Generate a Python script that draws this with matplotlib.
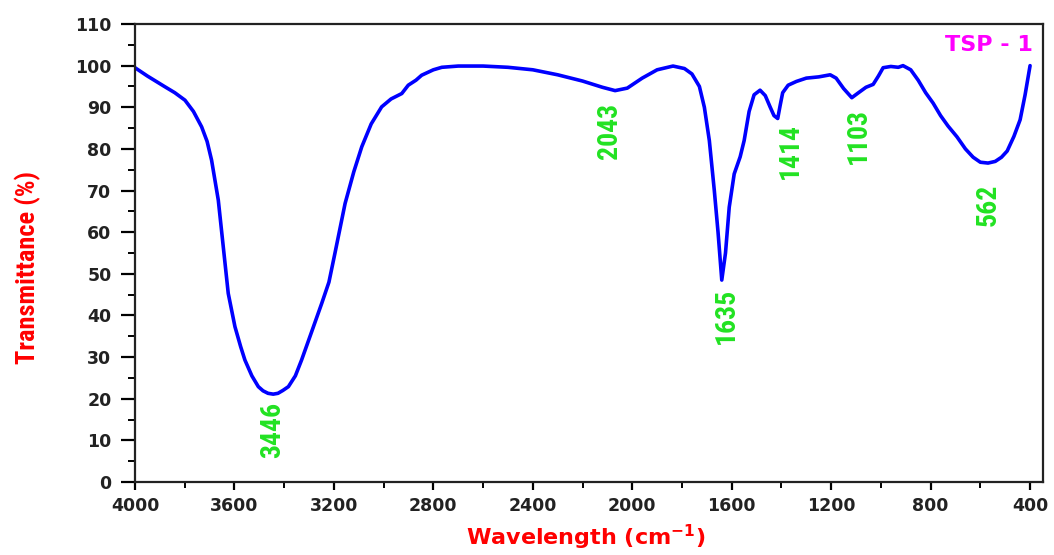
import matplotlib
matplotlib.use("Agg")
import matplotlib.pyplot as plt
from matplotlib import font_manager
from matplotlib.ticker import MultipleLocator

# FTIR spectrum (wavenumber in cm-1, transmittance in %)
wavenumber = [4000, 3950, 3879, 3840, 3799, 3765, 3732, 3710, 3692, 3665,
              3645, 3625, 3598, 3575, 3558, 3530, 3504, 3485, 3465, 3444,
              3425, 3405, 3383, 3355, 3330, 3290, 3249, 3220, 3196, 3155,
              3120, 3088, 3050, 3008, 2970, 2927, 2901, 2870, 2847, 2800,
              2766, 2700, 2600, 2500, 2400, 2300, 2200, 2120, 2069, 2020,
              1960, 1900, 1836, 1790, 1760, 1730, 1710, 1690, 1670, 1655,
              1640, 1625, 1610, 1590, 1566, 1550, 1530, 1510, 1486, 1465,
              1445, 1430, 1415, 1405, 1395, 1373, 1340, 1300, 1250, 1204,
              1180, 1150, 1117, 1090, 1060, 1031, 1010, 991, 960, 930,
              911, 880, 850, 820, 790, 760, 730, 694, 660, 629,
              600, 569, 540, 515, 492, 465, 440, 420, 400]
transmittance = [99.5, 97.5, 94.9, 93.5, 91.7, 89.0, 85.3, 81.8, 77.3, 67.7,
                 56.5, 45.3, 37.3, 32.5, 29.3, 25.5, 22.9, 21.9, 21.3, 21.1,
                 21.3, 22.0, 22.9, 25.5, 29.3, 36.0, 42.9, 48.0, 54.9, 66.9,
                 74.5, 80.5, 86.0, 90.1, 92.0, 93.3, 95.3, 96.5, 97.7, 99.0,
                 99.6, 99.9, 99.9, 99.6, 99.0, 97.8, 96.3, 94.8, 94.0, 94.6,
                 97.0, 99.0, 99.9, 99.3, 98.0, 95.0, 90.0, 82.0, 70.0, 60.0,
                 48.5, 55.0, 66.0, 74.0, 78.1, 82.0, 89.0, 93.0, 94.1, 92.8,
                 90.0, 88.0, 87.3, 90.5, 93.5, 95.3, 96.2, 97.0, 97.3, 97.8,
                 97.0, 94.5, 92.3, 93.5, 94.8, 95.5, 97.5, 99.5, 99.8, 99.6,
                 100.0, 99.0, 96.5, 93.5, 91.0, 88.0, 85.5, 82.9, 80.0, 78.0,
                 76.8, 76.6, 77.0, 78.0, 79.5, 83.0, 87.0, 93.0, 100.0]

# peak labels and where they sit
peak_labels = ["3446", "2043", "1635", "1414", "1103", "562"]
label_x = [3446, 2093, 1620, 1365, 1092, 569]
label_y = [12.5, 84.3, 40.0, 79.5, 83.0, 66.5]


def pick_font(names):
    installed = {f.name for f in font_manager.fontManager.ttflist}
    for n in names:
        if n in installed:
            return n
    return "DejaVu Sans"


narrow = pick_font(["Liberation Sans Narrow", "Arial Narrow", "Roboto Condensed"])

plt.rcParams['font.family'] = 'DejaVu Sans'
fig = plt.figure(figsize=(10.54, 5.55), dpi=100)
ax = fig.add_axes([135 / 1054, 1 - 482 / 555, (1043 - 135) / 1054, (482 - 24) / 555])

ax.plot(wavenumber, transmittance, color='#0000ff', lw=2.6,
        solid_joinstyle='round', solid_capstyle='round')

ax.set_xlim(4000, 348)
ax.set_ylim(0, 110)
ax.xaxis.set_major_locator(MultipleLocator(400))
ax.xaxis.set_minor_locator(MultipleLocator(200))
ax.yaxis.set_major_locator(MultipleLocator(10))
ax.yaxis.set_minor_locator(MultipleLocator(5))

for s in ax.spines.values():
    s.set_linewidth(1.6)
    s.set_color('#222222')
ax.tick_params(axis='y', which='major', direction='out', length=10, width=1.6, pad=7)
ax.tick_params(axis='y', which='minor', direction='out', length=5, width=1.4)
ax.tick_params(axis='x', which='major', direction='out', length=6, width=1.6, pad=5)
ax.tick_params(axis='x', which='minor', direction='out', length=4, width=1.4)
for lab in ax.get_xticklabels() + ax.get_yticklabels():
    lab.set_fontweight('bold')
    lab.set_fontsize(12.5)
    lab.set_color('#222222')

for txt, x, y in zip(peak_labels, label_x, label_y):
    ax.text(x, y, txt, rotation=90, ha='center', va='center', color='#22e222',
            fontsize=20, fontweight='bold', family=[narrow, 'DejaVu Sans'])

ax.text(0.989, 0.955, "TSP - 1", transform=ax.transAxes, ha='right', va='center',
        color='#ff00ff', fontsize=16, fontweight='bold')

fig.text(28 / 1054, 1 - 268 / 555, "Transmittance (%)", rotation=90, ha='center',
         va='center', color='#ff0000', fontsize=19, fontweight='bold',
         family=[narrow, 'DejaVu Sans'])
fig.text(586 / 1054, 1 - 537 / 555, r"Wavelength (cm$^{\mathbf{-1}}$)", ha='center',
         va='center', color='#ff0000', fontsize=16, fontweight='bold')

fig.savefig("out.png", dpi=100)
